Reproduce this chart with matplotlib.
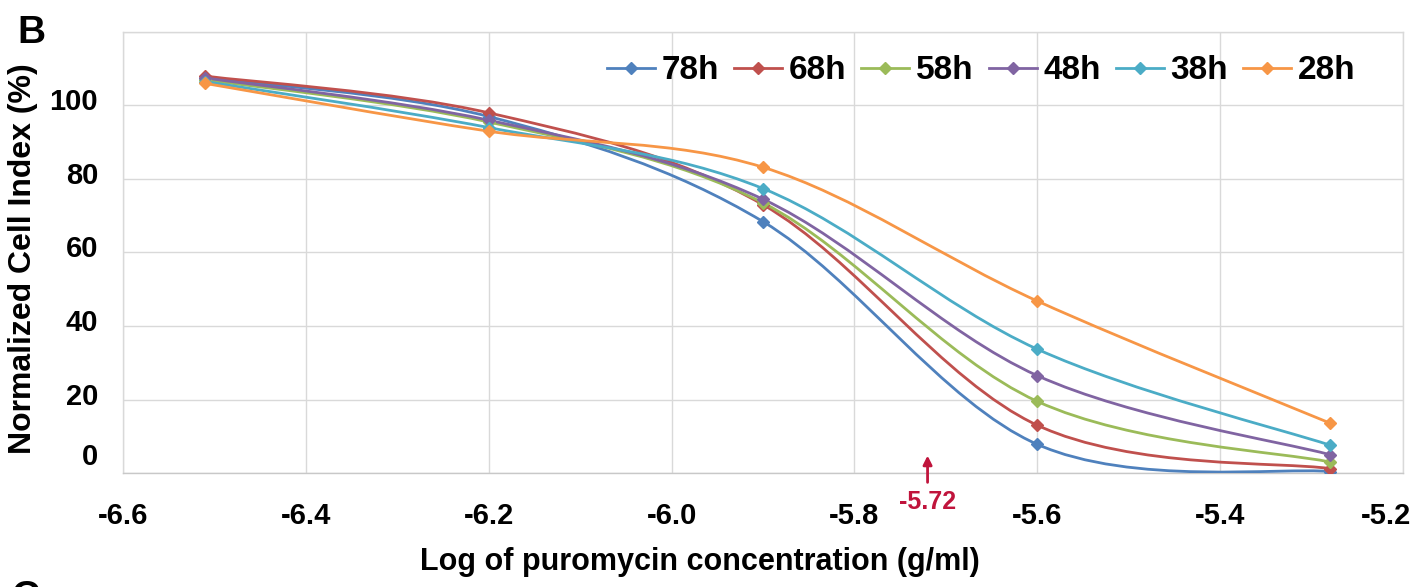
import numpy as np
import matplotlib
matplotlib.use("Agg")
import matplotlib.pyplot as plt
import matplotlib.transforms as mtransforms
from matplotlib.path import Path
from matplotlib.patches import PathPatch
from matplotlib.lines import Line2D

plt.rcParams['font.family'] = ['Liberation Sans', 'DejaVu Sans']
plt.rcParams['font.weight'] = 'bold'

# ---- data ----
log_conc = [-6.51, -6.20, -5.90, -5.60, -5.28]
series_names = ["78h", "68h", "58h", "48h", "38h", "28h"]
v78 = [107.5, 97.0, 68.4, 7.8, 0.4]
v68 = [108.0, 98.0, 73.0, 13.0, 1.2]
v58 = [107.0, 95.5, 73.5, 19.5, 3.0]
v48 = [107.5, 96.0, 74.5, 26.5, 5.0]
v38 = [106.5, 94.0, 77.4, 33.7, 7.6]
v28 = [106.0, 93.0, 83.2, 46.8, 13.6]
series_values = [v78, v68, v58, v48, v38, v28]
colors = ["#4F81BD", "#C0504D", "#9BBB59", "#8064A2", "#4BACC6", "#F79646"]
x_ticks = [-6.6, -6.4, -6.2, -6.0, -5.8, -5.6, -5.4, -5.2]
y_ticks = [0, 20, 40, 60, 80, 100]
ic50 = -5.72


def smooth_path(xs, ys):
    """Excel-like smoothed line: cubic Bezier segments through the points."""
    pts = np.column_stack([xs, ys]).astype(float)
    n = len(pts)
    verts = [pts[0]]
    codes = [Path.MOVETO]
    for i in range(n - 1):
        p0 = pts[i - 1] if i > 0 else pts[i]
        p1 = pts[i]
        p2 = pts[i + 1]
        p3 = pts[i + 2] if i + 2 < n else pts[i + 1]
        c1 = p1 + (p2 - p0) / 6.0
        c2 = p2 - (p3 - p1) / 6.0
        verts += [c1, c2, p2]
        codes += [Path.CURVE4] * 3
    return Path(verts, codes)


fig = plt.figure(figsize=(14.21, 5.87), dpi=100)
ax = fig.add_axes([0.0866, 0.1942, 0.9007, 0.7513])

for name, vals, col in zip(series_names, series_values, colors):
    patch = PathPatch(smooth_path(log_conc, vals), facecolor='none',
                      edgecolor=col, lw=2.0, zorder=3)
    ax.add_patch(patch)
    ax.plot(log_conc, vals, linestyle='none', marker='D', ms=6,
            color=col, zorder=4)

ax.set_xlim(-6.6, -5.2)
ax.set_ylim(0, 120)
ax.set_xticks(x_ticks)
ax.set_xticklabels([f"{t:.1f}" for t in x_ticks])
ax.set_yticks(y_ticks)
ax.set_yticks([120], minor=True)
ax.grid(True, which='both', color='#d9d9d9', lw=1.0)
ax.set_axisbelow(True)
for s in ax.spines.values():
    s.set_color('#d9d9d9')
    s.set_linewidth(1.0)
ax.spines['bottom'].set_color('#c8c8c8')
ax.tick_params(axis='both', which='both', length=0, labelsize=21)
ax.tick_params(axis='x', pad=21)
ax.tick_params(axis='y', pad=18)

# y tick labels sit slightly above their gridlines in the reference
for lab in ax.get_yticklabels():
    dy = 19 if lab.get_text() == '0' else 6
    lab.set_transform(lab.get_transform() +
                      mtransforms.ScaledTranslation(0, dy / 100.0, fig.dpi_scale_trans))
# the last x label is pulled inside the figure edge
xlabs = ax.get_xticklabels()
xlabs[-1].set_transform(xlabs[-1].get_transform() +
                        mtransforms.ScaledTranslation(-0.17, 0, fig.dpi_scale_trans))

ax.set_xlabel("Log of puromycin concentration (g/ml)", fontsize=22,
              fontweight='bold')
ax.xaxis.set_label_coords(0.451, -0.2018)
ax.xaxis.label.set_verticalalignment('center')
ax.set_ylabel("Normalized Cell Index (%)", fontsize=23, fontweight='bold')
ax.yaxis.set_label_coords(-0.0785, 0.485)
ax.yaxis.label.set_verticalalignment('center')

# IC50 annotation
ax.annotate('', xy=(ic50, 5.5), xytext=(ic50, -3.3),
            arrowprops=dict(arrowstyle='-|>', color='#C0143C', lw=2,
                            mutation_scale=13),
            annotation_clip=False)
ax.text(ic50, -7.9, f"{ic50:.2f}", color='#C0143C', fontsize=18,
        fontweight='bold', ha='center', va='center', clip_on=False)

handles = [Line2D([], [], color=c, lw=2, marker='D', ms=6) for c in colors]
ax.legend(handles, series_names, loc='center left', bbox_to_anchor=(0.378, 0.9116),
          ncol=6, frameon=False, fontsize=24, handlelength=1.44,
          handletextpad=0.2, columnspacing=0.45, borderaxespad=0, borderpad=0)

fig.text(0.012, 0.975, "B", fontsize=28, fontweight='bold', va='top', ha='left')
fig.text(0.008, 0.012, "C", fontsize=28, fontweight='bold', va='top', ha='left')

fig.savefig("out.png", dpi=100)
